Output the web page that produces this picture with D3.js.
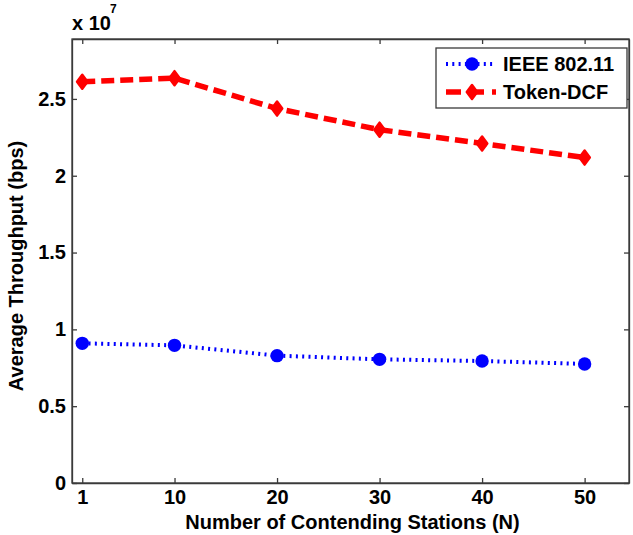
<!DOCTYPE html>
<html>
<head>
<meta charset="utf-8">
<script src="https://cdn.jsdelivr.net/npm/d3@7"></script>
<style>
  html, body { margin: 0; padding: 0; background: #fff; }
  svg { display: block; font-family: "Liberation Sans", Arial, Helvetica, sans-serif; }
</style>
</head>
<body>
<svg id="chart" width="633" height="535"></svg>
<script>
// Number of contending stations on the x axis
const stations = [1, 10, 20, 30, 40, 50];
// Average throughput in bps for each scheme
const ieee80211 = [0.909e7, 0.896e7, 0.829e7, 0.805e7, 0.794e7, 0.775e7];
const tokenDCF  = [2.612e7, 2.635e7, 2.437e7, 2.300e7, 2.210e7, 2.118e7];
// Axis ticks
const xTicks = [1, 10, 20, 30, 40, 50];
const yTicks = [0, 0.5e7, 1e7, 1.5e7, 2e7, 2.5e7];
const yTickLabels = ["0", "0.5", "1", "1.5", "2", "2.5"];
const seriesNames = ["IEEE 802.11", "Token-DCF"];

(function () {
const svg = d3.select("#chart");
const plotLeft = 72, plotTop = 39, plotRight = 629, plotBottom = 483;
const axisColor = "#3a3a3a";
const fontSize = 20, fontWeight = "bold";

const x = d3.scaleLinear().domain([0, 54.33]).range([plotLeft, plotRight]);
const y = d3.scaleLinear().domain([0, 2.89e7]).range([plotBottom, plotTop]);

// plot frame
svg.append("rect")
  .attr("x", plotLeft).attr("y", plotTop)
  .attr("width", plotRight - plotLeft).attr("height", plotBottom - plotTop)
  .attr("fill", "#fff").attr("stroke", axisColor).attr("stroke-width", 1.3);

// bottom axis: inward ticks + labels
const xAxis = d3.axisBottom(x).tickValues(xTicks).tickSizeInner(-5).tickSizeOuter(0).tickPadding(7);
const gx = svg.append("g").attr("transform", `translate(0,${plotBottom})`).call(xAxis);
// top axis: ticks only
const gxt = svg.append("g").attr("transform", `translate(0,${plotTop})`)
  .call(d3.axisTop(x).tickValues(xTicks).tickSizeInner(-5).tickSizeOuter(0).tickFormat(""));
// left axis
const yAxis = d3.axisLeft(y).tickValues(yTicks).tickSizeInner(-5).tickSizeOuter(0).tickPadding(6)
  .tickFormat((d, i) => yTickLabels[i]);
const gy = svg.append("g").attr("transform", `translate(${plotLeft},0)`).call(yAxis);
// right axis: ticks only
const gyr = svg.append("g").attr("transform", `translate(${plotRight},0)`)
  .call(d3.axisRight(y).tickValues(yTicks).tickSizeInner(-5).tickSizeOuter(0).tickFormat(""));

[gx, gxt, gy, gyr].forEach(g => {
  g.select(".domain").attr("stroke", axisColor).attr("stroke-width", 1.3);
  g.selectAll(".tick line").attr("stroke", axisColor).attr("stroke-width", 1.3);
  g.selectAll(".tick text").attr("fill", "#000").attr("font-size", fontSize)
    .attr("font-weight", fontWeight)
    .attr("font-family", "Liberation Sans, Arial, sans-serif");
});
gx.selectAll(".tick text").attr("dy", "0.71em");

// axis titles
svg.append("text")
  .attr("x", (plotLeft + plotRight) / 2 + 2).attr("y", 529)
  .attr("text-anchor", "middle").attr("font-size", fontSize).attr("font-weight", fontWeight)
  .text("Number of Contending Stations (N)");
svg.append("text")
  .attr("transform", `translate(23,${(plotTop + plotBottom) / 2 + 5}) rotate(-90)`)
  .attr("text-anchor", "middle").attr("font-size", fontSize).attr("font-weight", fontWeight)
  .text("Average Throughput (bps)");

// exponent multiplier above the y axis
const expo = svg.append("text").attr("x", plotLeft).attr("y", 29.5)
  .attr("font-size", fontSize).attr("font-weight", fontWeight);
expo.append("tspan").text("x 10");
expo.append("tspan").attr("font-size", 12).attr("dy", -17).attr("dx", -1).text("7");

// series
const blue = "#0000ff", red = "#ff0000";
const line = d3.line().x(d => x(d[0])).y(d => y(d[1]));
const blueData = stations.map((s, i) => [s, ieee80211[i]]);
const redData = stations.map((s, i) => [s, tokenDCF[i]]);

svg.append("path").datum(blueData).attr("d", line)
  .attr("fill", "none").attr("stroke", blue).attr("stroke-width", 4)
  .attr("stroke-dasharray", "2 4.3");
svg.append("path").datum(redData).attr("d", line)
  .attr("fill", "none").attr("stroke", red).attr("stroke-width", 5.5)
  .attr("stroke-dasharray", "13 6");

const diamond = (cx, cy) => `M${cx},${cy - 7}L${cx + 5.2},${cy}L${cx},${cy + 7}L${cx - 5.2},${cy}Z`;

svg.append("g").selectAll("circle").data(blueData).join("circle")
  .attr("cx", d => x(d[0])).attr("cy", d => y(d[1])).attr("r", 6.7)
  .attr("fill", blue);
svg.append("g").selectAll("path").data(redData).join("path")
  .attr("d", d => diamond(x(d[0]), y(d[1])))
  .attr("fill", red).attr("stroke", red).attr("stroke-width", 2.5).attr("stroke-linejoin", "round");

// legend
const lg = svg.append("g");
lg.append("rect").attr("x", 436).attr("y", 48).attr("width", 191).attr("height", 60)
  .attr("fill", "#fff").attr("stroke", axisColor).attr("stroke-width", 1.3);
const rows = [
  { name: seriesNames[0], y: 64, color: blue },
  { name: seriesNames[1], y: 92, color: red }
];
rows.forEach((r, i) => {
  lg.append("line").attr("x1", 446).attr("x2", 496).attr("y1", r.y).attr("y2", r.y)
    .attr("stroke", r.color)
    .attr("stroke-width", i === 0 ? 4 : 5.5)
    .attr("stroke-dasharray", i === 0 ? "2 4.3" : "15 8")
    .attr("stroke-dashoffset", 0);
  if (i === 0) {
    lg.append("circle").attr("cx", 472).attr("cy", r.y).attr("r", 6.7).attr("fill", blue);
  } else {
    lg.append("path").attr("d", diamond(472, r.y)).attr("fill", red)
      .attr("stroke", red).attr("stroke-width", 2.5).attr("stroke-linejoin", "round");
  }
  lg.append("text").attr("x", 503).attr("y", r.y + 7)
    .attr("font-size", fontSize).attr("font-weight", fontWeight).text(r.name);
});
})();
</script>
</body>
</html>
